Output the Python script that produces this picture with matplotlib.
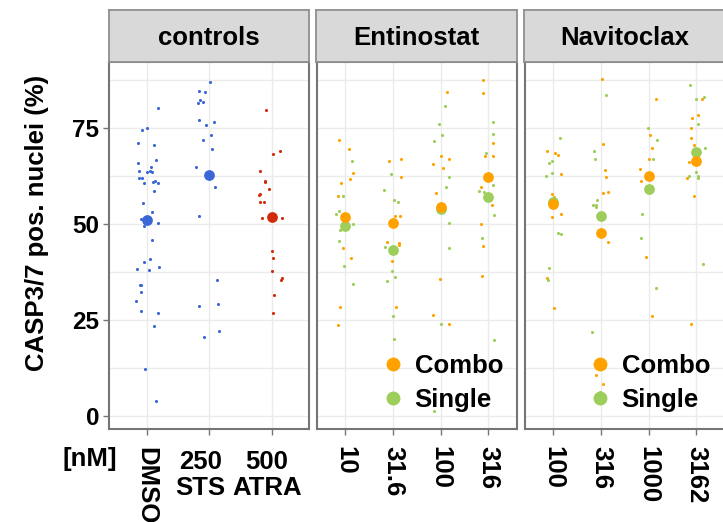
import numpy as np
import matplotlib
matplotlib.use("Agg")
import matplotlib.pyplot as plt
from matplotlib.lines import Line2D

plt.rcParams['font.family'] = ['Liberation Sans', 'DejaVu Sans']
plt.rcParams['font.weight'] = 'bold'

# ---- data: % CASP3/7 positive nuclei per well ----
ctrl_labels = ['DMSO', '250\nSTS', '500\nATRA']
dmso_vals = [80.2, 75.2, 74.5, 71.3, 70.7, 66.7, 65.9, 65.0, 63.9, 63.6, 63.9, 63.6, 62.1,
             62.1, 60.7, 61.0, 61.3, 60.7, 58.6, 55.5, 53.2, 51.3, 50.4, 49.5, 45.8, 40.9,
             40.1, 38.3, 38.9, 38.1, 34.1, 34.1, 32.4, 30.1, 27.5, 26.9, 23.5, 12.3, 4.0]
dmso_jit = [0.176, 0.0, -0.069, -0.144, 0.117, 0.155, -0.144, 0.064, -0.123, 0.0, 0.048,
            0.085, -0.128, -0.075, -0.043, 0.101, 0.139, 0.176, 0.117, -0.053, 0.085, -0.085,
            0.176, -0.037, 0.085, 0.048, -0.043, -0.16, 0.192, 0.032, -0.107, -0.091, -0.091,
            -0.176, -0.091, 0.176, 0.117, -0.021, 0.155]
sts_vals = [87.0, 84.7, 84.4, 82.5, 81.8, 81.6, 77.3, 76.7, 75.8, 73.2, 71.9, 69.5, 65.0,
            59.6, 52.1, 35.4, 28.6, 29.2, 22.1, 20.7]
sts_jit = [0.011, -0.165, -0.059, -0.149, -0.096, -0.181, -0.165, 0.08, -0.043, 0.027,
           -0.096, 0.043, -0.203, 0.096, -0.165, 0.133, -0.165, 0.149, 0.165, -0.075]
atra_vals = [79.8, 68.4, 69.0, 63.9, 61.3, 61.0, 59.3, 57.9, 57.5, 55.8, 55.8, 51.5, 51.5,
             42.9, 41.2, 37.8, 36.1, 35.4, 31.5, 26.9]
atra_jit = [-0.096, 0.027, 0.133, -0.181, -0.112, -0.112, -0.043, -0.181, -0.197, -0.181,
            -0.128, -0.149, 0.171, 0.011, 0.027, 0.011, 0.171, 0.155, 0.043, 0.027]
ctrl_means = [51.2, 62.8, 52.0]

ent_doses = ['10', '31.6', '100', '316']
ent_combo = [[71.9, 69.5, 63.3, 61.9, 60.7, 57.3, 43.8, 41.3, 28.3, 23.7],
             [66.5, 67.0, 62.4, 52.1, 52.1, 45.3, 45.1, 44.7, 40.3, 28.3],
             [84.4, 65.6, 67.8, 67.0, 64.7, 58.1, 35.8, 26.3, 24.0],
             [87.6, 84.2, 71.3, 67.9, 67.9, 59.6, 54.9, 50.0, 44.4, 36.4]]
ent_combo_jit = [[-0.13, 0.076, 0.16, 0.097, -0.09, -0.153, -0.042, 0.118, -0.111, -0.153],
                 [-0.083, 0.167, 0.167, 0.035, 0.146, -0.125, 0.118, 0.125, -0.014, 0.056],
                 [0.125, -0.167, 0.014, 0.174, 0.042, -0.104, -0.007, -0.167, 0.174],
                 [-0.118, -0.111, 0.097, -0.063, 0.097, -0.153, 0.076, -0.16, -0.118, -0.132]]
ent_single = [[66.4, 57.3, 53.5, 52.6, 50.0, 48.4, 45.5, 39.2, 34.3],
              [63.0, 59.0, 56.4, 55.8, 44.0, 37.8, 36.3, 35.2, 26.0, 20.1],
              [80.7, 76.2, 73.2, 71.6, 62.4, 59.6, 50.4, 43.8, 24.0, 1.2],
              [76.7, 73.6, 68.7, 60.1, 58.7, 58.3, 52.4, 46.4, 19.8]]
ent_single_jit = [[0.139, -0.042, -0.132, -0.2, 0.16, -0.111, -0.132, -0.021, 0.16],
                  [-0.035, -0.194, 0.014, 0.104, -0.167, -0.014, 0.035, -0.125, 0.007, 0.014],
                  [0.097, -0.035, 0.035, -0.139, 0.174, 0.104, 0.174, 0.174, 0.014, -0.139],
                  [0.09, 0.097, -0.042, 0.097, -0.194, -0.09, 0.125, -0.132, 0.125]]
ent_combo_mean = [52.0, 50.2, 54.6, 62.3]
ent_single_mean = [49.6, 43.4, 54.0, 57.2]

nav_doses = ['100', '316', '1000', '3162']
nav_combo = [[69.1, 68.7, 68.1, 63.0, 57.9, 57.0, 51.9, 52.7, 36.1, 28.1],
             [87.8, 71.0, 64.1, 62.4, 58.1, 58.4, 45.4, 10.6, 8.3],
             [82.6, 73.2, 69.9, 67.0, 64.4, 61.3, 41.5, 26.1],
             [82.6, 78.5, 77.6, 75.2, 72.5, 70.7, 66.1, 62.1, 57.3, 24.1]]
nav_combo_jit = [[-0.132, 0.049, 0.097, 0.167, -0.014, 0.028, -0.014, 0.167, -0.132, 0.028],
                 [0.014, 0.035, 0.076, 0.104, 0.035, 0.146, 0.146, -0.104, 0.035],
                 [0.146, 0.028, 0.076, 0.007, -0.174, -0.153, -0.056, 0.076],
                 [0.125, 0.028, -0.083, -0.104, -0.118, -0.056, -0.146, -0.194, -0.049, -0.104]]
nav_single = [[72.4, 65.9, 66.5, 63.3, 62.5, 47.6, 47.4, 38.7, 35.5],
              [83.6, 69.2, 67.0, 56.4, 55.0, 55.0, 54.4, 21.8, 6.3],
              [75.2, 71.9, 67.0, 52.6, 46.3, 33.4],
              [86.2, 82.7, 83.3, 76.2, 69.9, 63.6, 62.5, 62.1, 62.7, 39.5]]
nav_single_jit = [[0.146, -0.083, -0.014, -0.014, -0.153, 0.097, 0.167, -0.083, -0.111],
                  [0.097, -0.153, -0.132, -0.083, -0.104, -0.174, -0.104, -0.194, -0.014],
                  [-0.014, 0.174, 0.097, -0.132, -0.153, 0.146],
                  [-0.125, -0.014, 0.153, 0.035, 0.174, -0.014, 0.035, 0.035, -0.153, 0.132]]
nav_combo_mean = [55.3, 47.7, 62.7, 66.6]
nav_single_mean = [55.9, 52.2, 59.1, 68.9]

BLUE = '#3A66D6'
RED = '#D42A0C'
ORANGE = '#FFA200'
GREEN = '#9DCD5A'
EDGE = '#757575'
FS = 18.5

W, H = 723, 522
fig = plt.figure(figsize=(W / 100, H / 100), dpi=100)


def fx(px):
    return px / W


def fy(py):
    return 1 - py / H


TOP, BOT = 62, 429
panels = [('controls', 109, 309), ('Entinostat', 316.5, 517), ('Navitoclax', 524.5, 725)]
axes = []
for name, l, r in panels:
    ax = fig.add_axes([fx(l), fy(BOT), (r - l) / W, (BOT - TOP) / H])
    ax.set_ylim(-3.4, 92.3)
    ax.set_yticks([0, 25, 50, 75])
    ax.set_yticks([12.5, 37.5, 62.5, 87.5], minor=True)
    ax.grid(which='both', color='#EBEBEB', lw=1.0)
    ax.set_axisbelow(True)
    for sp in ax.spines.values():
        sp.set_color(EDGE)
        sp.set_linewidth(1.5)
    ax.tick_params(axis='both', which='major', color=EDGE, width=1.0, length=4.5)
    ax.tick_params(axis='y', which='minor', left=False)
    if name != 'controls':
        ax.tick_params(axis='y', left=False, labelleft=False)
    else:
        ax.tick_params(axis='y', labelsize=17.5, pad=2.5)
        for t in ax.get_yticklabels():
            t.set_fontweight('bold')
    # strip on top of each panel
    sax = fig.add_axes([fx(l - 0.5), fy(TOP), (r - l) / W, (TOP - 10) / H])
    sax.set_facecolor('#D9D9D9')
    sax.set_xticks([])
    sax.set_yticks([])
    for sp in sax.spines.values():
        sp.set_color('#8F8F8F')
        sp.set_linewidth(1.3)
    sax.text(0.5, 0.47, name, ha='center', va='center', fontsize=FS,
             fontweight='bold', transform=sax.transAxes)
    axes.append(ax)

# controls panel
ax = axes[0]
ax.set_xlim(0.4, 3.6)
ax.set_xticks([1, 2, 3])
ax.set_xticklabels([])
for i, (vals, jit, col) in enumerate([(dmso_vals, dmso_jit, BLUE),
                                      (sts_vals, sts_jit, BLUE),
                                      (atra_vals, atra_jit, RED)]):
    ax.scatter(np.array(jit) + i + 1, vals, s=5, color=col, lw=0, zorder=3)
    ax.scatter([i + 1], [ctrl_means[i]], s=60, color=col, lw=0, zorder=4)

xt = ax.get_xaxis_transform()
ylab = -(447 - BOT) / (BOT - TOP)
ax.text(1, ylab, ctrl_labels[0], rotation=-90, ha='center', va='top',
        fontsize=FS, fontweight='bold', transform=xt)
ax.text(1.86, ylab - 0.008, ctrl_labels[1], ha='center', va='top', multialignment='center',
        fontsize=FS, fontweight='bold', transform=xt, linespacing=1.1)
ax.text(2.93, ylab - 0.008, ctrl_labels[2], ha='center', va='top', multialignment='center',
        fontsize=FS, fontweight='bold', transform=xt, linespacing=1.1)

# drug panels
legend_left = [380, 587]
for k, (ax, doses, combo, cjit, single, sjit, cmean, smean) in enumerate([
        (axes[1], ent_doses, ent_combo, ent_combo_jit, ent_single, ent_single_jit,
         ent_combo_mean, ent_single_mean),
        (axes[2], nav_doses, nav_combo, nav_combo_jit, nav_single, nav_single_jit,
         nav_combo_mean, nav_single_mean)]):
    ax.set_xlim(0.4, 4.6)
    ax.set_xticks([1, 2, 3, 4])
    ax.set_xticklabels(doses, rotation=-90, ha='center', va='top',
                       fontsize=FS, fontweight='bold')
    ax.tick_params(axis='x', pad=8)
    for i in range(4):
        ax.scatter(np.array(cjit[i]) + i + 1, combo[i], s=5, color=ORANGE, lw=0, zorder=3)
        ax.scatter(np.array(sjit[i]) + i + 1, single[i], s=5, color=GREEN, lw=0, zorder=3)
    ax.scatter(np.arange(1, 5), smean, s=60, color=GREEN, lw=0, zorder=4)
    ax.scatter(np.arange(1, 5), cmean, s=60, color=ORANGE, lw=0, zorder=5)
    handles = [Line2D([], [], marker='o', ls='', color=ORANGE, markersize=10, mew=0),
               Line2D([], [], marker='o', ls='', color=GREEN, markersize=10, mew=0)]
    ax.legend(handles, ['Combo', 'Single'], prop=dict(weight='bold', size=FS),
              frameon=False, handlelength=1.0, handletextpad=0.35, labelspacing=0.42,
              borderpad=0, borderaxespad=0, loc='center left',
              bbox_to_anchor=(fx(legend_left[k]), fy(383)), bbox_transform=fig.transFigure)

fig.text(fx(37.5), fy(223), 'CASP3/7 pos. nuclei (%)', rotation=90, ha='center',
         va='center', fontsize=FS, fontweight='bold')
fig.text(fx(117), fy(447), '[nM]', ha='right', va='top', fontsize=FS, fontweight='bold')

fig.savefig('out.png', dpi=100)
